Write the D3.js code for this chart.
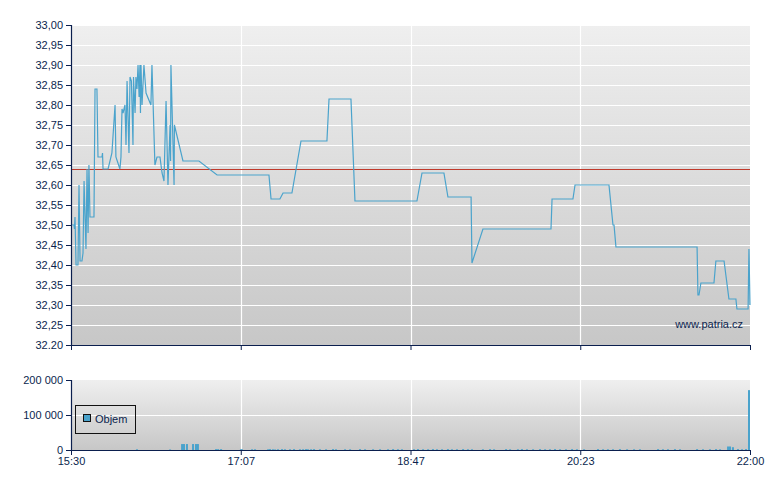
<!DOCTYPE html>
<html><head><meta charset="utf-8">
<script src="https://cdn.jsdelivr.net/npm/d3@7"></script>
<style>
body{margin:0;background:#fff;}
svg text{font-family:"Liberation Sans",Arial,sans-serif;font-size:11px;fill:#0b1f4e;}
</style></head>
<body><svg id="c" width="780" height="490"></svg>
<script>
// ---- data ----
// minutes after 15:30 for each trade point
const priceMinutes = [0,1.7,2.0,2.3,2.9,4.0,4.6,5.2,6.3,6.9,7.5,8.6,9.2,9.8,10.3,10.9,12.1,13.2,13.8,14.9,15.5,17.8,18.1,18.4,21.3,23.5,25.3,25.8,28.1,28.7,29.3,29.9,31.0,31.6,32.2,33.3,33.9,34.7,35.6,35.9,36.8,37.3,37.9,38.5,39.1,39.6,39.9,40.2,40.8,41.9,43.1,45.9,46.5,48.2,49.4,51.1,52.3,53.4,54.6,55.7,56.9,57.2,57.4,59.2,59.4,64.3,73.5,83.9,113.7,114.9,120.0,121.8,126.9,132.1,147.0,148.2,160.8,163.1,198.7,201.6,214.2,216.5,229.8,230.3,236.6,275.7,276.3,288.3,289.5,309.0,311.3,311.9,313.0,359.6,360.1,360.7,361.8,369.3,370.4,375.1,377.9,381.9,382.5,388.9,389.4,390];
const priceValues  = [32.50,32.50,32.49,32.52,32.40,32.40,32.60,32.41,32.41,32.43,32.61,32.44,32.64,32.48,32.65,32.52,32.52,32.52,32.84,32.84,32.67,32.67,32.68,32.64,32.64,32.68,32.80,32.67,32.64,32.67,32.79,32.78,32.80,32.70,32.86,32.68,32.87,32.86,32.70,32.87,32.78,32.87,32.84,32.90,32.82,32.90,32.78,32.90,32.80,32.90,32.83,32.80,32.90,32.65,32.67,32.67,32.63,32.61,32.81,32.60,32.75,32.66,32.90,32.60,32.75,32.66,32.66,32.625,32.625,32.565,32.565,32.58,32.58,32.71,32.71,32.815,32.815,32.56,32.56,32.63,32.63,32.57,32.57,32.405,32.49,32.49,32.565,32.565,32.60,32.60,32.50,32.50,32.445,32.445,32.325,32.325,32.355,32.355,32.41,32.41,32.315,32.315,32.29,32.29,32.44,32.30];
const referencePrice = 32.64;

const volumeMinutes = [37.9,56.9,63.8,64.9,66.6,70.1,71.8,72.9,83.3,84.5,86.2,97.6,98.2,104,105.7,113.2,114.3,116,117.2,118.9,121.2,122.9,125.8,128.1,131.5,133.3,135,136.1,137.9,139.6,143,146.5,150.5,152.2,157.4,160.3,166,168.9,173.5,177.5,182.1,185,187.8,190.1,197,199.3,202.2,205.1,207.9,210.2,213.1,216.5,218.8,221.7,225.2,228,230.3,236.6,240.7,243,249.9,252.2,256.7,259,261.9,265.4,269.4,272.3,275.1,278,280.9,284.3,287.8,290.6,294.7,302.7,305.6,308.4,311.3,315.3,319.4,323.4,326.8,337.2,340,342.9,346.9,349.8,359.6,363,367,370.5,372.8,377.4,378.5,380.2,383.1,385.4,387.7,390];
const volumeValues  = [2000,1500,17000,17000,17000,17000,17000,17000,2500,2500,2500,2000,2000,2000,2000,2000,2500,2000,1500,2000,2500,2000,2000,2500,2000,2000,2500,2000,2000,2500,2000,2000,2500,2000,2000,2000,2500,2000,2000,2000,2000,2500,2000,2000,2000,2500,2000,2000,2500,2000,2000,2500,2000,2000,2500,2000,2000,2000,2500,2000,2500,2000,2000,2500,2000,2000,2500,2000,2000,2500,2000,2000,2500,2000,2000,2500,2000,2000,2000,2500,2000,2000,2000,2500,2000,2000,2500,2000,2500,2000,2000,2500,2000,10000,10000,8000,2500,2000,2500,171000];

const priceTicks = [32.20,32.25,32.30,32.35,32.40,32.45,32.50,32.55,32.60,32.65,32.70,32.75,32.80,32.85,32.90,32.95,33.00];
const priceTickLabels = ["32.20","32,25","32,30","32,35","32,40","32,45","32,50","32,55","32,60","32,65","32,70","32,75","32,80","32,85","32,90","32,95","33,00"];
const timeTicks = [0,97.5,195,292.5,390];
const timeTickLabels = ["15:30","17:07","18:47","20:23","22:00"];
const volumeTicks = [0,100000,200000];
const volumeTickLabels = ["0","100 000","200 000"];
const legendLabel = "Objem";
const watermark = "www.patria.cz";

// ---- drawing ----
const svg = d3.select("#c");
const L = 71, R = 750, T1 = 25, B1 = 345, T2 = 380, B2 = 450;
const navy = "#0b1f4e", lineCol = "#4aa3cc";

const x = d3.scaleLinear().domain([0,390]).range([L,R]);
const y = d3.scaleLinear().domain([32.2,33]).range([B1,T1]);
const yv = d3.scaleLinear().domain([0,200000]).range([B2,T2]);

const defs = svg.append("defs");
const g1 = defs.append("linearGradient").attr("id","bg").attr("x1",0).attr("y1",0).attr("x2",0).attr("y2",1);
g1.append("stop").attr("offset","0%").attr("stop-color","#efefef");
g1.append("stop").attr("offset","100%").attr("stop-color","#c7c7c7");

// panels
svg.append("rect").attr("x",L).attr("y",T1).attr("width",R-L).attr("height",B1-T1).attr("fill","url(#bg)");
svg.append("rect").attr("x",L).attr("y",T2).attr("width",R-L).attr("height",B2-T2).attr("fill","url(#bg)");

// grids
const grid1 = svg.append("g").attr("stroke","#fff").attr("stroke-width",1.2);
priceTicks.forEach(v=>{ if(v>32.2) grid1.append("line").attr("x1",L).attr("x2",R).attr("y1",Math.round(y(v))+0.5).attr("y2",Math.round(y(v))+0.5); });
timeTicks.slice(1,-1).forEach(t=>{
  grid1.append("line").attr("x1",Math.round(x(t))+0.5).attr("x2",Math.round(x(t))+0.5).attr("y1",T1).attr("y2",B1);
  grid1.append("line").attr("x1",Math.round(x(t))+0.5).attr("x2",Math.round(x(t))+0.5).attr("y1",T2).attr("y2",B2);
});
grid1.append("line").attr("x1",L).attr("x2",R).attr("y1",yv(100000)+0.5).attr("y2",yv(100000)+0.5);

// reference line
svg.append("line").attr("x1",L).attr("x2",R).attr("y1",Math.round(y(referencePrice))+0.5).attr("y2",Math.round(y(referencePrice))+0.5)
  .attr("stroke","#c0392b").attr("stroke-width",1);

// price line
const pts = priceMinutes.map((m,i)=>[m,priceValues[i]]);
svg.append("path").datum(pts)
  .attr("d", d3.line().x(d=>x(d[0])).y(d=>y(d[1])))
  .attr("fill","none").attr("stroke",lineCol).attr("stroke-width",1.2);

// volume bars
svg.append("g").selectAll("rect").data(volumeMinutes.map((m,i)=>[m,volumeValues[i]])).join("rect")
  .attr("x",d=>Math.min(x(d[0])-1, R-2)).attr("width",2)
  .attr("y",d=>yv(d[1])).attr("height",d=>B2-yv(d[1]))
  .attr("fill",lineCol);

// axes
const axStyle = g=>{ g.selectAll("path,line").attr("stroke",navy); g.selectAll("text").attr("fill",navy).style("font-size","11px"); g.select(".domain").attr("stroke-width",1.2); };
svg.append("g").attr("transform",`translate(${L},0)`)
  .call(d3.axisLeft(y).tickValues(priceTicks).tickSize(5).tickPadding(3).tickFormat((d,i)=>priceTickLabels[i]))
  .call(axStyle);
svg.append("g").attr("transform",`translate(0,${B1})`)
  .call(d3.axisBottom(x).tickValues(timeTicks).tickSize(5).tickSizeOuter(0).tickFormat(""))
  .call(axStyle);
svg.append("g").attr("transform",`translate(${L},0)`)
  .call(d3.axisLeft(yv).tickValues(volumeTicks).tickSize(5).tickPadding(3).tickFormat((d,i)=>volumeTickLabels[i]))
  .call(axStyle);
svg.append("g").attr("transform",`translate(0,${B2})`)
  .call(d3.axisBottom(x).tickValues(timeTicks).tickSize(5).tickSizeOuter(0).tickPadding(2).tickFormat((d,i)=>timeTickLabels[i]))
  .call(axStyle);

// watermark
svg.append("text").attr("x",743).attr("y",328).attr("text-anchor","end").text(watermark);

// legend
const lg = svg.append("g");
lg.append("rect").attr("x",75.5).attr("y",405.5).attr("width",60).attr("height",28).attr("fill","none").attr("stroke","#111").attr("stroke-width",1);
lg.append("rect").attr("x",83.5).attr("y",414.5).attr("width",7).attr("height",7).attr("fill",lineCol).attr("stroke","#111").attr("stroke-width",1);
lg.append("text").attr("x",95).attr("y",423).text(legendLabel);
</script></body></html>
